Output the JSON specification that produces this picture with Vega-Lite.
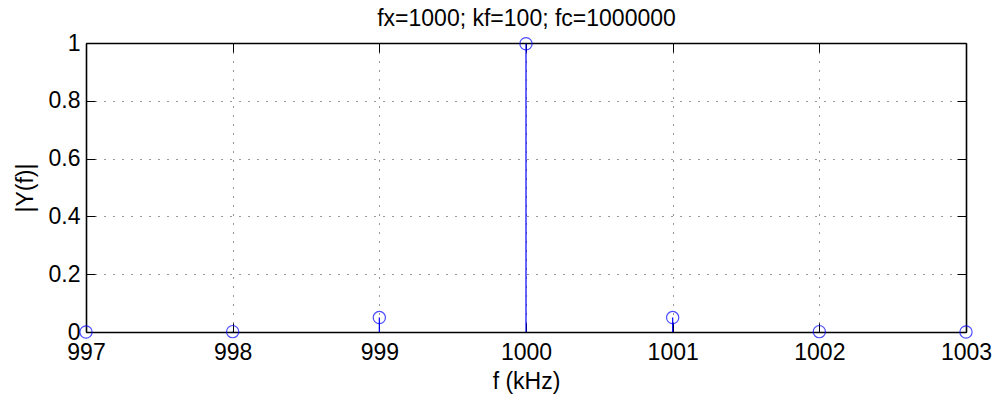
{
  "$schema": "https://vega.github.io/schema/vega-lite/v6.json",
  "width": 880,
  "height": 289,
  "autosize": {"type": "none"},
  "padding": {"left": 86, "top": 43, "right": 29, "bottom": 67},
  "config": {
    "view": {"stroke": null},
    "font": "Liberation Sans",
    "axis": {
      "labelFont": "Liberation Sans",
      "labelFontSize": 23,
      "labelColor": "black",
      "titleFont": "Liberation Sans",
      "titleFontSize": 23,
      "titleFontWeight": "normal",
      "titleColor": "black",
      "domainColor": "black",
      "domainWidth": 1.6,
      "tickColor": "black",
      "tickWidth": 1,
      "tickSize": -9,
      "gridColor": "black",
      "gridDash": [1, 8],
      "gridWidth": 1,
      "gridOpacity": 0.8
    }
  },
  "data": {
    "values": [
      {"f": 997, "mag": 0.00002},
      {"f": 998, "mag": 0.00125},
      {"f": 999, "mag": 0.0499},
      {"f": 1000, "mag": 0.9975},
      {"f": 1001, "mag": 0.0499},
      {"f": 1002, "mag": 0.00125},
      {"f": 1003, "mag": 0.00002}
    ]
  },
  "layer": [
    {
      "mark": {"type": "rule", "color": "#0000ff", "strokeWidth": 1.2},
      "encoding": {
        "x": {
          "field": "f",
          "type": "quantitative",
          "scale": {"domain": [997, 1003], "nice": false, "zero": false},
          "axis": {
            "orient": "bottom",
            "values": [997, 998, 999, 1000, 1001, 1002, 1003],
            "format": "d",
            "grid": true,
            "labelPadding": 18,
            "labelFlush": false,
            "title": "f  (kHz)",
            "titleBaseline": "alphabetic",
            "titleY": 56
          }
        },
        "y": {
          "field": "mag",
          "type": "quantitative",
          "scale": {"domain": [0, 1], "nice": false},
          "axis": {
            "orient": "left",
            "values": [0, 0.2, 0.4, 0.6, 0.8, 1],
            "format": "~g",
            "grid": true,
            "labelPadding": 15,
            "labelFlush": false,
            "title": "|Y(f)|",
            "titleBaseline": "alphabetic",
            "titleX": -54
          }
        },
        "y2": {"datum": 0}
      }
    },
    {
      "mark": {"type": "point", "shape": "circle", "filled": false, "color": "#0000ff", "size": 150, "strokeWidth": 1.2},
      "encoding": {
        "x": {"field": "f", "type": "quantitative", "axis": null},
        "y": {"field": "mag", "type": "quantitative", "axis": null}
      }
    },
    {
      "mark": {"type": "point", "opacity": 0},
      "encoding": {
        "x": {
          "field": "f",
          "type": "quantitative",
          "axis": {
            "orient": "top",
            "values": [997, 998, 999, 1000, 1001, 1002, 1003],
            "labels": false,
            "grid": false,
            "title": "fx=1000; kf=100; fc=1000000",
            "titleBaseline": "alphabetic",
            "titleY": -18
          }
        },
        "y": {
          "field": "mag",
          "type": "quantitative",
          "axis": {
            "orient": "right",
            "values": [0, 0.2, 0.4, 0.6, 0.8, 1],
            "labels": false,
            "grid": false,
            "title": null
          }
        }
      }
    }
  ],
  "resolve": {"axis": {"x": "independent", "y": "independent"}}
}
